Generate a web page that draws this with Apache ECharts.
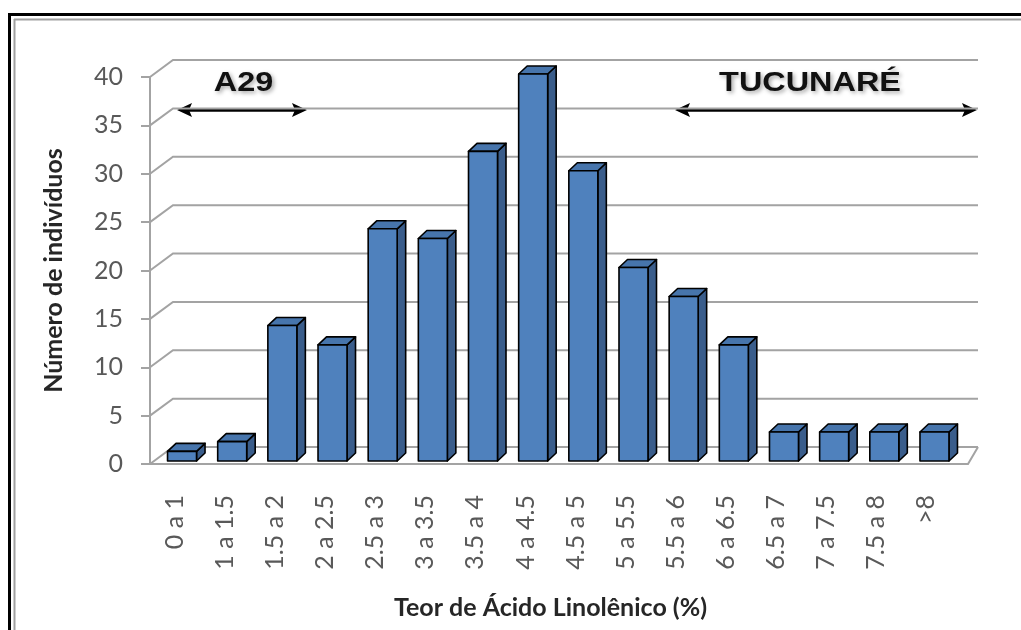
<!DOCTYPE html>
<html>
<head>
<meta charset="utf-8">
<script src="https://cdn.jsdelivr.net/npm/echarts@6/dist/echarts.min.js"></script>
<style>
  html, body { margin: 0; padding: 0; background: #fff; }
  #chart { width: 1021px; height: 630px; }
</style>
</head>
<body>
<div id="chart"></div>
<script>
// Linolenic acid content classes and number of individuals in each
const categories = ['0 a 1', '1 a 1.5', '1.5 a 2', '2 a 2.5', '2.5 a 3', '3 a 3.5', '3.5 a 4', '4 a 4.5',
                    '4.5 a 5', '5 a 5.5', '5.5 a 6', '6 a 6.5', '6.5 a 7', '7 a 7.5', '7.5 a 8', '>8'];
const counts = [1, 2, 14, 12, 24, 23, 32, 40, 30, 20, 17, 12, 3, 3, 3, 3];
// value-axis ticks (also the wall gridlines)
const yTicks = [0, 5, 10, 15, 20, 25, 30, 35, 40];

const GRID_COLOR = '#a3a3a3';
const LABEL_COLOR = '#595959';

// 3D wall / floor depth offsets
const WALL_DX_LEFT = 23, WALL_DX_RIGHT = 10, WALL_DY = -17, FLOOR_EXT = 17;
// bar depth
const BAR_DX = 8.5, BAR_DY = -8, BAR_W = 29;

const chart = echarts.init(document.getElementById('chart'), null, { renderer: 'canvas' });

function renderWall(params, api) {
  const cs = params.coordSys;
  const v = api.value(1);
  const fy = api.coord([0, v])[1];
  const left = cs.x;
  const floorRight = cs.x + cs.width + FLOOR_EXT;
  const backLeft = [left + WALL_DX_LEFT, fy + WALL_DY];
  const backRight = [floorRight + WALL_DX_RIGHT, fy + WALL_DY];
  const style = { stroke: GRID_COLOR, lineWidth: 2, fill: null };
  const children = [
    { type: 'polyline', shape: { points: [[left, fy], backLeft, backRight] }, style: style }
  ];
  if (v === 0) {
    // floor front edge and right edge
    children.push({
      type: 'polyline',
      shape: { points: [[left, fy], [floorRight, fy], backRight] },
      style: style
    });
  }
  return { type: 'group', children: children };
}

function renderBar(params, api) {
  const i = api.value(0);
  const v = api.value(1);
  const n = categories.length;
  const base = api.coord([i, 0]);
  const top = api.coord([i, v]);
  const shift = 7 + 1.5 * i / (n - 1);
  const x0 = base[0] + shift - BAR_W / 2;
  const x1 = x0 + BAR_W;
  const yb = base[1] - 3;
  const yt = top[1] - 3;
  const line = { stroke: '#000', lineWidth: 1.6, lineJoin: 'round' };
  return {
    type: 'group',
    children: [
      { type: 'polygon', shape: { points: [[x1, yt], [x1 + BAR_DX, yt + BAR_DY], [x1 + BAR_DX, yb + BAR_DY], [x1, yb]] },
        style: Object.assign({ fill: '#3a5d8b' }, line) },
      { type: 'polygon', shape: { points: [[x0, yt], [x0 + BAR_DX, yt + BAR_DY], [x1 + BAR_DX, yt + BAR_DY], [x1, yt]] },
        style: Object.assign({ fill: '#4775ac' }, line) },
      { type: 'polygon', shape: { points: [[x0, yt], [x1, yt], [x1, yb], [x0, yb]] },
        style: Object.assign({ fill: '#4f81bd' }, line) }
    ]
  };
}

function arrow(xa, xb, y) {
  const h = 7, l = 15;
  return {
    type: 'group',
    children: [
      { type: 'line', shape: { x1: xa + l - 3, y1: y, x2: xb - l + 3, y2: y }, style: { stroke: '#000', lineWidth: 3.5 } },
      { type: 'polygon', shape: { points: [[xa, y], [xa + l, y - h], [xa + l - 3, y], [xa + l, y + h]] }, style: { fill: '#000' } },
      { type: 'polygon', shape: { points: [[xb, y], [xb - l, y - h], [xb - l + 3, y], [xb - l, y + h]] }, style: { fill: '#000' } }
    ]
  };
}

function label(text, x, y) {
  return {
    type: 'text', x: x, y: y, scaleX: 1.2,
    style: {
      text: text, align: 'center', verticalAlign: 'middle',
      fontFamily: 'Liberation Sans, Arial, sans-serif', fontWeight: 'bold', fontSize: 27, fill: '#111',
      textShadowColor: 'rgba(0,0,0,0.35)', textShadowBlur: 4, textShadowOffsetX: 2, textShadowOffsetY: 2
    }
  };
}

const option = {
  animation: false,
  backgroundColor: '#ffffff',
  grid: { left: 150, right: 70, top: 77, bottom: 166 },
  xAxis: {
    type: 'category',
    data: categories,
    boundaryGap: true,
    axisLine: { lineStyle: { color: GRID_COLOR, width: 2 } },
    axisTick: { length: 8, lineStyle: { color: GRID_COLOR, width: 2 } },
    axisLabel: { rotate: 90, margin: 31, interval: 0, fontFamily: 'Lato', fontSize: 25, color: LABEL_COLOR },
    splitLine: { show: false },
    name: 'Teor de Ácido Linolênico (%)',
    nameLocation: 'middle',
    nameGap: 131,
    nameTextStyle: { fontFamily: 'Lato', fontWeight: 'bold', fontSize: 25, color: '#262626' }
  },
  yAxis: {
    type: 'value',
    min: 0, max: 40, interval: 5,
    axisLine: { show: true, lineStyle: { color: GRID_COLOR, width: 2 } },
    axisTick: { show: true, length: 9, lineStyle: { color: GRID_COLOR, width: 2 } },
    axisLabel: { margin: 27, fontFamily: 'Lato', fontSize: 25, color: LABEL_COLOR },
    splitLine: { show: false },
    name: 'Número de indivíduos',
    nameLocation: 'middle',
    nameGap: 84,
    nameRotate: 90,
    nameTextStyle: { fontFamily: 'Lato', fontWeight: 'bold', fontSize: 25, color: '#262626' }
  },
  series: [
    {
      type: 'custom',
      name: 'walls',
      z: 1,
      silent: true,
      renderItem: renderWall,
      data: yTicks.map(v => [0, v])
    },
    {
      type: 'custom',
      name: 'Número de indivíduos',
      z: 3,
      renderItem: renderBar,
      data: counts.map((v, i) => [i, v])
    }
  ],
  graphic: [
    // double frame
    { type: 'line', shape: { x1: 8, y1: 14.5, x2: 1021, y2: 14.5 }, style: { stroke: '#000', lineWidth: 3 } },
    { type: 'line', shape: { x1: 9.5, y1: 13, x2: 9.5, y2: 630 }, style: { stroke: '#000', lineWidth: 3 } },
    { type: 'line', shape: { x1: 14, y1: 19.5, x2: 1021, y2: 19.5 }, style: { stroke: '#a0a0a0', lineWidth: 2 } },
    { type: 'line', shape: { x1: 14.5, y1: 19, x2: 14.5, y2: 630 }, style: { stroke: '#a0a0a0', lineWidth: 2 } },
    // cultivar ranges
    label('A29', 243.5, 84),
    arrow(177, 307, 110),
    label('TUCUNARÉ', 810, 84),
    arrow(675, 977, 110)
  ]
};

chart.setOption(option);
</script>
</body>
</html>
